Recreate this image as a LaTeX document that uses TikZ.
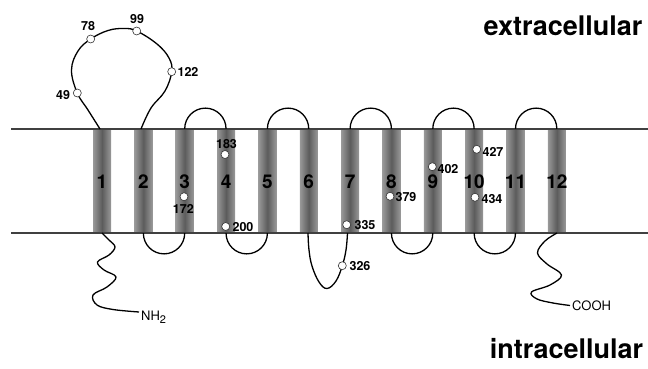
\documentclass[tikz,border=0pt]{standalone}
\usepackage{fontspec}
\setmainfont{TeX Gyre Heros}
\begin{document}
\begin{tikzpicture}[x=1pt,y=-1pt,
  helix/.style={rectangle, minimum width=18pt, minimum height=104pt, inner sep=0pt,
    left color=black!40, right color=black!40, middle color=black!64, draw=none},
  hnum/.style={font=\bfseries\fontsize{19}{19}\selectfont, inner sep=0pt, anchor=base},
  site/.style={circle, draw=black!80, fill=white, line width=0.6pt, minimum size=8pt, inner sep=0pt},
  slab/.style={font=\bfseries\fontsize{12.5}{12.5}\selectfont, inner sep=0pt},
  tlab/.style={font=\fontsize{13}{13}\selectfont, inner sep=0pt, anchor=base west},
  region/.style={font=\bfseries\fontsize{27}{27}\selectfont, inner sep=0pt, anchor=base},
  chain/.style={line width=1.3pt, black},
  membrane/.style={line width=1.3pt, black!75}]

\useasboundingbox (0,0) rectangle (648,369);

% helices
\foreach \i in {1,...,12}
  \node[helix] (h\i) at ({102+41.35*(\i-1)},181) {};

% membrane
\coordinate (mTL) at (11,129);
\coordinate (mTR) at (648,129);
\coordinate (mBL) at (11,233);
\coordinate (mBR) at (648,233);
\draw[membrane] (mTL) -- (mTR);
\draw[membrane] (mBL) -- (mBR);

% helix numbers
\foreach \i in {1,...,12}
  \node[hnum] (n\i) at ({102+41.35*(\i-1)},188.5) {\i};

% extracellular loops
\foreach \a in {3,5,7,9,11}
  \draw[chain] (h\a.north) arc[start angle=180, end angle=0, radius=20.67pt];
% intracellular loops
\foreach \a in {2,4,8,10}
  \draw[chain] (h\a.south) arc[start angle=180, end angle=360, radius=20.67pt];

% big loop 1-2
\coordinate (f1) at (100,129);
\coordinate (f2) at (141,129);
\draw[chain] plot[smooth, tension=0.65] coordinates {(f1) (88,110) (77.3,93) (71.5,70) (78,51) (90.7,39) (108,30.5) (124,28.5) (136.7,31) (157,44) (169,58) (171.7,71.7) (165,91) (151,108) (f2)};

% loop 6-7
\coordinate (f6) at (308,233);
\coordinate (f7) at (347.5,233);
\draw[chain] plot[smooth, tension=0.65] coordinates {(f6) (309,250) (312,266) (319,282) (327,288.5) (336,281) (342.3,265.7) (346,250) (f7)};

% N-terminal tail
\coordinate (nt) at (102,233);
\draw[chain] plot[smooth, tension=0.6] coordinates {(nt) (109,240) (115,247) (109,255) (97.5,262) (104,270) (116,277) (107,287) (93,295) (97,305) (113,309.5) (139,312)};
\node[tlab] (nh2) at (141,320) {NH\raisebox{-3.3pt}{\fontsize{11}{11}\selectfont 2}};

% C-terminal tail
\coordinate (ct) at (557,233);
\draw[chain] plot[smooth, tension=0.6] coordinates {(ct) (545,241) (537.5,253) (547,264) (561.5,275) (550,285) (531.5,292) (537,299) (553,303) (570,305.5)};
\node[tlab] (cooh) at (572,310.5) {COOH};

% sites
\node[site] (c49) at (77.3,93) {};
\node[site] (c78) at (90.7,39) {};
\node[site] (c99) at (136.7,31) {};
\node[site] (c122) at (171.7,71.7) {};
\node[site] (c183) at (225,154.5) {};
\node[site] (c172) at (184,196.7) {};
\node[site] (c200) at (225.7,226.5) {};
\node[site] (c335) at (346.7,224.7) {};
\node[site] (c326) at (342.3,265.7) {};
\node[site] (c379) at (390,196.3) {};
\node[site] (c402) at (432.3,166.7) {};
\node[site] (c427) at (476.7,149.3) {};
\node[site] (c434) at (475,197.3) {};

\node[slab] (l49) at (63,95) {49};
\node[slab] (l78) at (88,26) {78};
\node[slab] (l99) at (137,19) {99};
\node[slab] (l122) at (188,71.5) {122};
\node[slab] (l183) at (226.5,144) {183};
\node[slab] (l172) at (183.3,209) {172};
\node[slab] (l200) at (243,226.7) {200};
\node[slab] (l335) at (365,225) {335};
\node[slab] (l326) at (360,266) {326};
\node[slab] (l379) at (406,197) {379};
\node[slab] (l402) at (448,168.7) {402};
\node[slab] (l427) at (493,151.7) {427};
\node[slab] (l434) at (492,199.3) {434};

% region labels
\node[region] (extra) at (563,36) {extracellular};
\node[region] (intra) at (566.5,358) {intracellular};
\end{tikzpicture}
\end{document}
